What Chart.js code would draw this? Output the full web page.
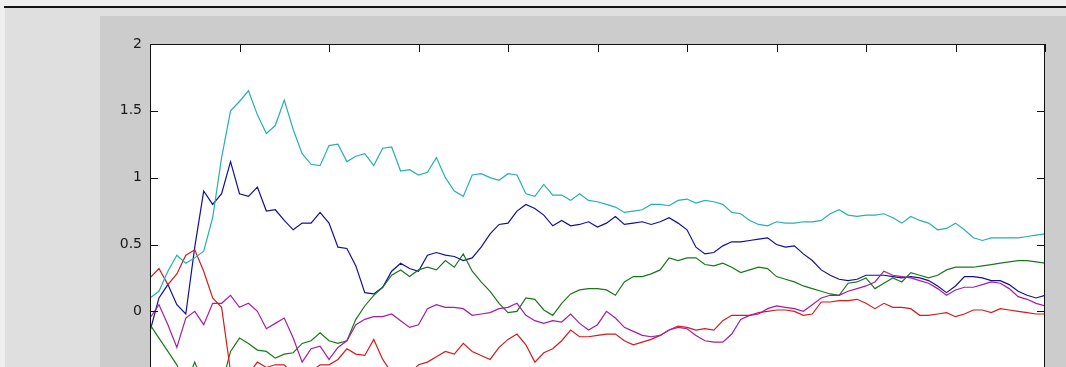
<!DOCTYPE html>
<html>
<head>
<meta charset="utf-8">
<script src="https://cdn.jsdelivr.net/npm/chart.js@4/dist/chart.umd.min.js"></script>
<style>
  html, body { margin: 0; padding: 0; width: 1066px; height: 367px; overflow: hidden; background: #efefef; }
  #rule { position: absolute; left: 4px; top: 6px; right: 0; height: 2px; background: #151515; }
  #panel { position: absolute; left: 5px; top: 8px; right: 0; bottom: 0; background: #dfdfdf; }
  #figure { position: absolute; left: 100px; top: 16px; width: 966px; height: 460px; background: #cccccc; }
</style>
</head>
<body>
<div id="rule"></div>
<div id="panel"></div>
<div id="figure"><canvas id="walks"></canvas></div>
<script>
// sample positions along the x axis
const steps = Array.from({ length: 101 }, (_, i) => i * 10);

const blueWalk = [
  -0.15, 0.10, 0.20, 0.05, -0.02, 0.48, 0.90, 0.80, 0.88, 1.12,
  0.88, 0.86, 0.93, 0.75, 0.76, 0.68, 0.61, 0.66, 0.66, 0.74,
  0.66, 0.48, 0.47, 0.34, 0.14, 0.13, 0.18, 0.30, 0.36, 0.32,
  0.30, 0.42, 0.44, 0.42, 0.41, 0.38, 0.40, 0.48, 0.58, 0.65,
  0.66, 0.75, 0.80, 0.77, 0.72, 0.64, 0.68, 0.64, 0.65, 0.67,
  0.63, 0.66, 0.71, 0.65, 0.66, 0.67, 0.65, 0.67, 0.70, 0.66,
  0.61, 0.48, 0.43, 0.44, 0.49, 0.52, 0.52, 0.53, 0.54, 0.55,
  0.50, 0.48, 0.49, 0.43, 0.38, 0.31, 0.27, 0.24, 0.23, 0.24,
  0.27, 0.27, 0.27, 0.26, 0.25, 0.26, 0.25, 0.23, 0.19, 0.14,
  0.19, 0.26, 0.26, 0.25, 0.23, 0.23, 0.20, 0.15, 0.12, 0.10,
  0.12
];

const greenWalk = [
  -0.10, -0.20, -0.30, -0.40, -0.55, -0.38, -0.55, -0.60, -0.55, -0.30,
  -0.20, -0.24, -0.29, -0.30, -0.35, -0.32, -0.31, -0.24, -0.22, -0.16,
  -0.22, -0.24, -0.22, -0.06, 0.04, 0.12, 0.18, 0.27, 0.31, 0.26,
  0.31, 0.33, 0.31, 0.38, 0.33, 0.43, 0.30, 0.22, 0.15, 0.06,
  -0.01, 0.00, 0.10, 0.09, 0.01, -0.03, 0.06, 0.13, 0.16, 0.17,
  0.17, 0.16, 0.12, 0.22, 0.26, 0.26, 0.28, 0.31, 0.40, 0.38,
  0.40, 0.40, 0.35, 0.34, 0.36, 0.33, 0.29, 0.31, 0.33, 0.32,
  0.26, 0.24, 0.22, 0.19, 0.17, 0.15, 0.13, 0.12, 0.21, 0.22,
  0.25, 0.17, 0.21, 0.25, 0.22, 0.29, 0.27, 0.25, 0.27, 0.31,
  0.33, 0.33, 0.33, 0.34, 0.35, 0.36, 0.37, 0.38, 0.38, 0.37,
  0.36
];

const redWalk = [
  0.25, 0.32, 0.20, 0.28, 0.42, 0.46, 0.30, 0.10, 0.03, -0.45,
  -0.52, -0.47, -0.38, -0.42, -0.40, -0.40, -0.47, -0.50, -0.45, -0.40,
  -0.40, -0.36, -0.28, -0.32, -0.33, -0.21, -0.36, -0.46, -0.50, -0.47,
  -0.40, -0.38, -0.34, -0.30, -0.32, -0.24, -0.30, -0.33, -0.36, -0.27,
  -0.21, -0.17, -0.25, -0.38, -0.31, -0.28, -0.22, -0.14, -0.19, -0.19,
  -0.18, -0.17, -0.17, -0.22, -0.25, -0.23, -0.21, -0.18, -0.14, -0.11,
  -0.12, -0.14, -0.13, -0.14, -0.07, -0.03, -0.03, -0.03, -0.01, 0.00,
  0.01, 0.01, 0.00, -0.03, -0.02, 0.07, 0.07, 0.08, 0.08, 0.09,
  0.06, 0.02, 0.06, 0.03, 0.03, 0.02, -0.03, -0.03, -0.02, -0.01,
  -0.04, -0.02, 0.01, 0.01, -0.01, 0.02, 0.01, 0.00, -0.01, -0.02,
  -0.02
];

const cyanWalk = [
  0.10, 0.15, 0.30, 0.42, 0.36, 0.40, 0.45, 0.70, 1.15, 1.50,
  1.57, 1.65, 1.47, 1.33, 1.39, 1.58, 1.36, 1.18, 1.10, 1.09,
  1.24, 1.25, 1.12, 1.16, 1.18, 1.09, 1.22, 1.23, 1.05, 1.06,
  1.02, 1.04, 1.15, 1.00, 0.90, 0.86, 1.02, 1.03, 1.00, 0.98,
  1.03, 1.02, 0.88, 0.86, 0.95, 0.87, 0.87, 0.83, 0.88, 0.83,
  0.82, 0.80, 0.78, 0.74, 0.75, 0.76, 0.80, 0.80, 0.79, 0.83,
  0.84, 0.81, 0.83, 0.82, 0.80, 0.74, 0.73, 0.68, 0.65, 0.64,
  0.67, 0.66, 0.66, 0.67, 0.67, 0.68, 0.73, 0.76, 0.72, 0.71,
  0.72, 0.72, 0.73, 0.70, 0.66, 0.71, 0.68, 0.66, 0.61, 0.62,
  0.66, 0.61, 0.55, 0.53, 0.55, 0.55, 0.55, 0.55, 0.56, 0.57,
  0.58
];

const magentaWalk = [
  -0.05, 0.05, -0.10, -0.27, -0.05, 0.00, -0.10, 0.06, 0.06, 0.12,
  0.03, 0.06, 0.00, -0.13, -0.09, -0.05, -0.20, -0.38, -0.28, -0.26,
  -0.36, -0.27, -0.22, -0.10, -0.06, -0.04, -0.04, -0.02, -0.07, -0.12,
  -0.10, 0.02, 0.05, 0.03, 0.03, 0.02, -0.03, -0.02, -0.01, 0.02,
  0.03, 0.06, -0.03, -0.07, -0.09, -0.07, -0.08, -0.02, -0.09, -0.14,
  -0.10, 0.00, -0.05, -0.12, -0.15, -0.18, -0.19, -0.18, -0.14, -0.12,
  -0.13, -0.18, -0.22, -0.23, -0.23, -0.17, -0.06, -0.03, -0.02, 0.02,
  0.04, 0.03, 0.02, 0.00, 0.05, 0.10, 0.12, 0.12, 0.15, 0.17,
  0.19, 0.22, 0.30, 0.27, 0.26, 0.25, 0.23, 0.21, 0.17, 0.12,
  0.16, 0.18, 0.18, 0.20, 0.22, 0.21, 0.17, 0.11, 0.09, 0.06,
  0.04
];

const walkColors = ['#10109a', '#1a781a', '#d81a1a', '#26b0b0', '#a61ca6'];
const walks = [blueWalk, greenWalk, redWalk, cyanWalk, magentaWalk];

// white axes background, box outline and inward tick marks
const axesBox = {
    id: 'axesBox',
    beforeDatasetsDraw(chart) {
        const { ctx, chartArea: a } = chart;
        ctx.save();
        ctx.fillStyle = '#ffffff';
        ctx.fillRect(a.left, a.top, a.right - a.left, a.bottom - a.top);
        ctx.restore();
    },
    afterDraw(chart) {
        const { ctx, chartArea: a, scales } = chart;
        const len = 8;
        ctx.save();
        ctx.strokeStyle = '#111111';
        ctx.lineWidth = 1;
        ctx.beginPath();
        ctx.rect(a.left + 0.5, a.top + 0.5, a.right - a.left - 1, a.bottom - a.top - 1);
        scales.x.ticks.forEach(t => {
            const px = Math.round(scales.x.getPixelForValue(t.value)) + 0.5;
            ctx.moveTo(px, a.top); ctx.lineTo(px, a.top + len);
            ctx.moveTo(px, a.bottom); ctx.lineTo(px, a.bottom - len);
        });
        scales.y.ticks.forEach(t => {
            const py = Math.round(scales.y.getPixelForValue(t.value)) + 0.5;
            ctx.moveTo(a.left, py); ctx.lineTo(a.left + len, py);
            ctx.moveTo(a.right, py); ctx.lineTo(a.right - len, py);
        });
        ctx.stroke();
        ctx.restore();
    }
};

new Chart(document.getElementById('walks'), {
    type: 'line',
    data: {
        datasets: walks.map((w, k) => ({
            data: steps.map((x, i) => ({ x: x, y: w[i] })),
            borderColor: walkColors[k],
            borderWidth: 1.2,
            pointRadius: 0,
            tension: 0,
            fill: false,
            order: walks.length - k,
        })),
    },
    options: {
        animation: false,
        responsive: true,
        maintainAspectRatio: false,
        layout: { padding: { top: 28, right: 21, bottom: 21, left: 0 } },
        plugins: {
            legend: { display: false },
            tooltip: { enabled: false },
        },
        scales: {
            x: {
                type: 'linear',
                min: 0,
                max: 1000,
                ticks: { stepSize: 100, display: false },
                grid: { display: false, drawTicks: false },
                border: { display: false },
                afterFit: s => { s.height = 10; },
            },
            y: {
                min: -1,
                max: 2,
                ticks: {
                    stepSize: 0.5,
                    padding: 8,
                    color: '#1a1a1a',
                    font: { family: 'DejaVu Sans', size: 14 },
                    // plain numbers: 2, 1.5, 1, 0.5, 0
                    callback: v => String(v),
                },
                grid: { display: false, drawTicks: false },
                border: { display: false },
                afterFit: s => { s.width = 50; },
            },
        },
    },
    plugins: [axesBox],
});
</script>
</body>
</html>
